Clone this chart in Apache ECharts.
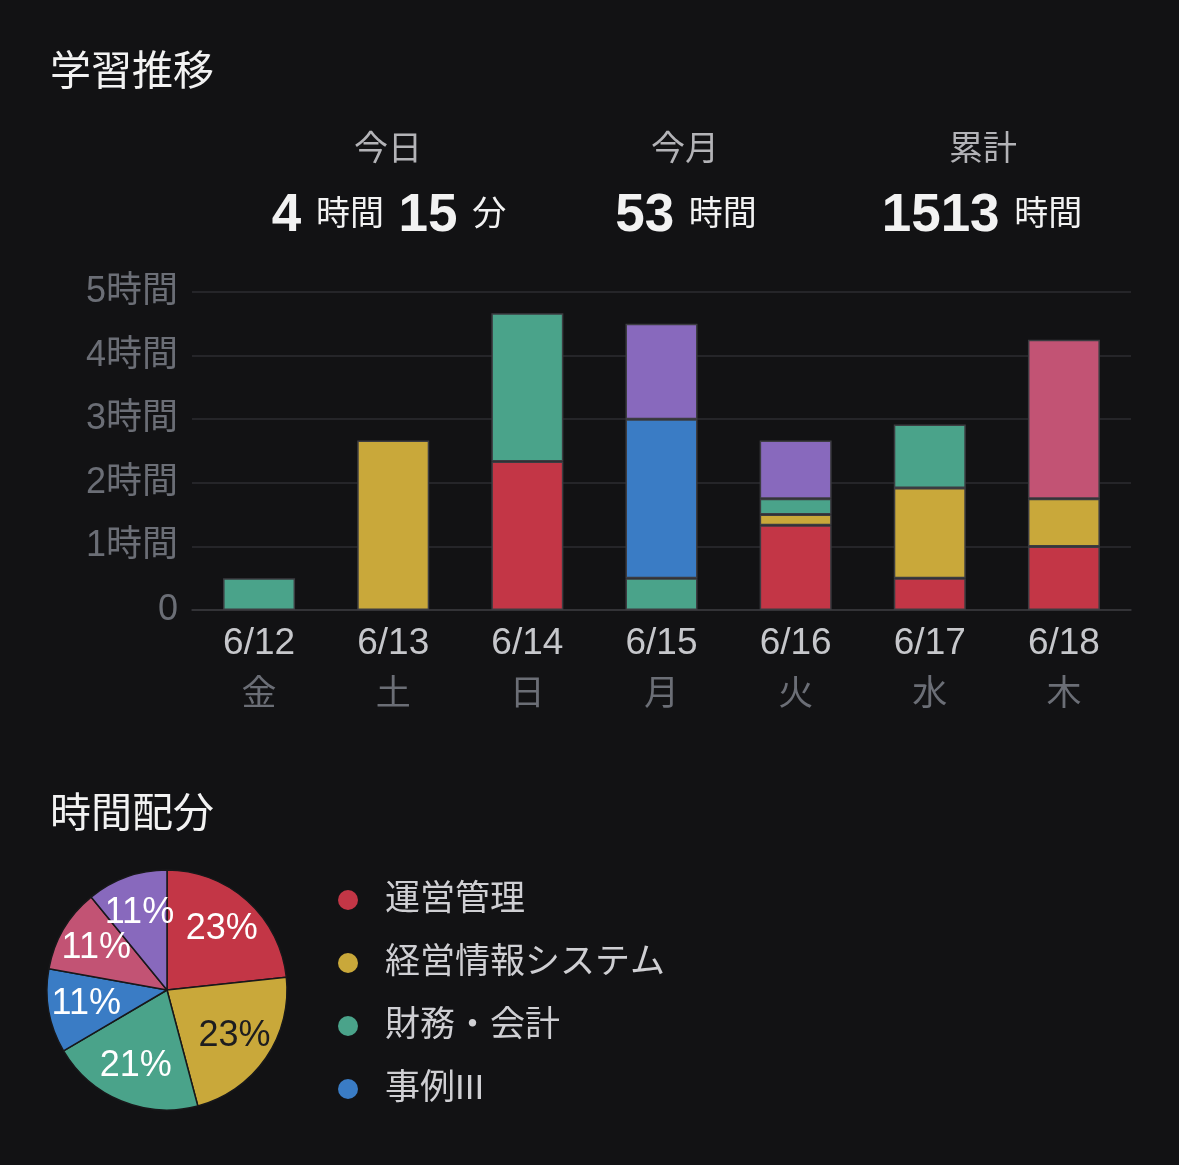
<!DOCTYPE html>
<html>
<head>
<meta charset="utf-8">
<style>
    html, body {margin:0;padding:0;background:#121214;}
    #main {width:1179px;height:1165px;}
</style>
</head>
<body>
<div id="main"></div>
<script src="https://cdn.jsdelivr.net/npm/echarts/dist/echarts.min.js"></script>
<script>
    // 日付と曜日
    var days = ['6/12', '6/13', '6/14', '6/15', '6/16', '6/17', '6/18'];
    var weekdays = ['金', '土', '日', '月', '火', '水', '木'];

    // 科目ごとの学習時間（分）
    var subjects = ['運営管理', '経営情報システム', '財務・会計', '事例III', '事例I', '事例II'];
    var uneiKanri = [0, 0, 140, 0, 80, 30, 60];
    var keieiJoho = [0, 160, 0, 0, 10, 85, 45];
    var zaimu = [30, 0, 140, 30, 15, 60, 0];
    var jirei3 = [0, 0, 0, 150, 0, 0, 0];
    var jirei1 = [0, 0, 0, 0, 0, 0, 150];
    var jirei2 = [0, 0, 0, 90, 55, 0, 0];
    var colors = ['#c33646', '#c9a83a', '#4aa38a', '#3a7cc5', '#c25374', '#8869bd'];

    var legendNames = ['運営管理', '経営情報システム', '財務・会計', '事例III'];

    var font = '"Liberation Sans", "Noto Sans CJK JP", sans-serif';
    var allData = [uneiKanri, keieiJoho, zaimu, jirei3, jirei1, jirei2];

    var chart = echarts.init(document.getElementById('main'));

    var barSeries = allData.map(function (arr, i) {
        return {
            name: subjects[i],
            type: 'bar',
            stack: 'total',
            barWidth: 72,
            itemStyle: {color: colors[i], borderColor: '#3c3c41', borderWidth: 1.5},
            data: arr.map(function (m) { return m > 0 ? m / 60 : null; })
        };
    });

    // 円グラフは一週間の合計
    var pieData = allData.map(function (arr, i) {
        var sum = arr.reduce(function (a, b) { return a + b; }, 0);
        return {name: subjects[i], value: sum, itemStyle: {color: colors[i]}};
    });
    var pieLabelData = pieData.map(function (d, i) {
        return {
            name: d.name,
            value: d.value,
            label: {color: i === 1 ? '#1d1d1f' : '#ffffff'}
        };
    });

    var numRich = {
        n: {fontSize: 53, fontWeight: 'bold', fill: '#f2f2f2', fontFamily: font},
        u: {fontSize: 34, fill: '#f2f2f2', fontFamily: font}
    };

    var option = {
        backgroundColor: '#121214',
        animation: false,
        textStyle: {fontFamily: font},
        grid: {left: 192, right: 48, top: 292, bottom: 555},
        xAxis: {
            type: 'category',
            data: days,
            axisTick: {show: false},
            axisLine: {lineStyle: {color: '#38383d', width: 1.5}},
            axisLabel: {
                margin: 9,
                formatter: function (v, idx) {
                    return '{d|' + v + '}\n{w|' + weekdays[idx] + '}';
                },
                rich: {
                    d: {fontSize: 37, color: '#c6c7cb', lineHeight: 50, fontFamily: font},
                    w: {fontSize: 35, color: '#6b6e76', lineHeight: 52, fontFamily: font}
                }
            }
        },
        yAxis: {
            type: 'value',
            min: 0,
            max: 5,
            interval: 1,
            axisLine: {show: false},
            axisTick: {show: false},
            splitLine: {lineStyle: {color: '#2c2c31', width: 1.5}},
            axisLabel: {
                margin: 14,
                fontSize: 36,
                color: '#6b6e76',
                fontFamily: font,
                padding: [5, 0, 0, 0],
                formatter: function (v) { return v === 0 ? '0' : v + '時間'; }
            }
        },
        legend: {
            data: legendNames,
            orient: 'vertical',
            left: 333,
            top: 875,
            icon: 'circle',
            itemWidth: 20,
            itemHeight: 20,
            itemGap: 23,
            selectedMode: false,
            itemStyle: {borderWidth: 0},
            textStyle: {
                fontSize: 35,
                color: '#cfcfd3',
                fontFamily: font,
                lineHeight: 40,
                padding: [0, 0, 0, 22]
            }
        },
        graphic: [
            {type: 'text', style: {text: '学習推移', x: 50, y: 74, fill: '#f2f2f2', font: '41px ' + font, textVerticalAlign: 'middle'}},
            {type: 'text', style: {text: '時間配分', x: 50, y: 816, fill: '#f2f2f2', font: '41px ' + font, textVerticalAlign: 'middle'}},
            {type: 'text', style: {text: '今日', x: 388, y: 151, fill: '#b3b3b7', font: '34px ' + font, textAlign: 'center', textVerticalAlign: 'middle'}},
            {type: 'text', style: {text: '今月', x: 685, y: 151, fill: '#b3b3b7', font: '34px ' + font, textAlign: 'center', textVerticalAlign: 'middle'}},
            {type: 'text', style: {text: '累計', x: 983, y: 151, fill: '#b3b3b7', font: '34px ' + font, textAlign: 'center', textVerticalAlign: 'middle'}},
            {type: 'text', style: {
                text: '{n|4 }{u|時間}{n| 15 }{u|分}', x: 389, y: 216, textAlign: 'center', textVerticalAlign: 'middle',
                rich: numRich
            }},
            {type: 'text', style: {
                text: '{n|53 }{u|時間}', x: 686, y: 216, textAlign: 'center', textVerticalAlign: 'middle',
                rich: numRich
            }},
            {type: 'text', style: {
                text: '{n|1513 }{u|時間}', x: 982, y: 216, textAlign: 'center', textVerticalAlign: 'middle',
                rich: numRich
            }}
        ],
        series: barSeries.concat([
            {
                name: '時間配分',
                type: 'pie',
                center: [167, 990],
                radius: 120,
                startAngle: 90,
                label: {show: false},
                labelLine: {show: false},
                itemStyle: {borderColor: '#18181a', borderWidth: 1.5},
                emphasis: {disabled: true},
                data: pieData
            },
            {
                // ラベル用（少し外側に置くため）
                name: '時間配分ラベル',
                type: 'pie',
                center: [167, 990],
                radius: [38, 120],
                startAngle: 90,
                silent: true,
                avoidLabelOverlap: false,
                labelLayout: {hideOverlap: false},
                itemStyle: {color: 'transparent', borderWidth: 0},
                labelLine: {show: false},
                label: {
                    show: true,
                    position: 'inside',
                    fontSize: 36,
                    lineHeight: 30,
                    fontFamily: font,
                    formatter: function (p) { return Math.round(p.percent) + '%'; }
                },
                emphasis: {disabled: true},
                data: pieLabelData
            }
        ])
    };

    chart.setOption(option);
</script>
</body>
</html>
